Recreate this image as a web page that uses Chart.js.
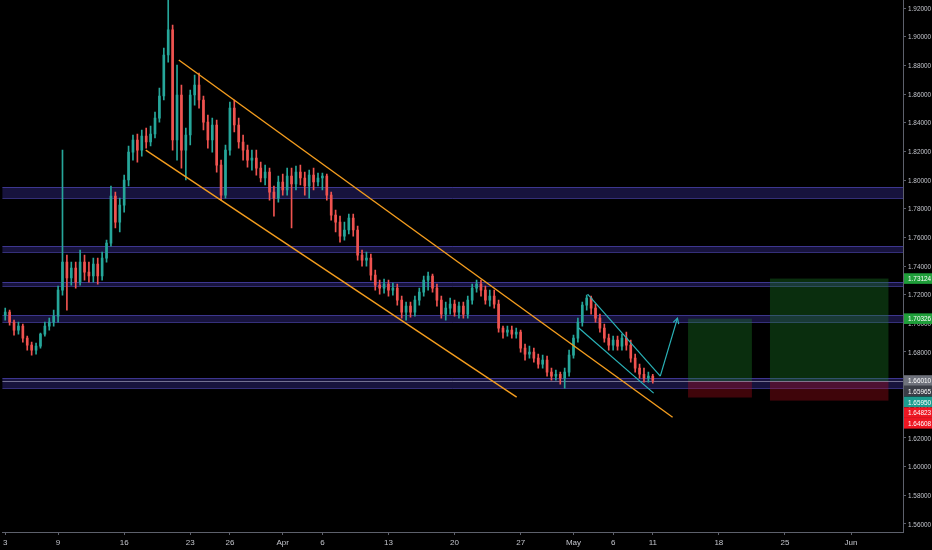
<!DOCTYPE html>
<html>
<head>
<meta charset="utf-8">
<script src="https://cdn.jsdelivr.net/npm/chart.js@4.4.1/dist/chart.umd.min.js"></script>
<style>
  html, body { margin: 0; padding: 0; background: #000; }
  #wrap { width: 932px; height: 550px; }
</style>
</head>
<body>
<div id="wrap"><canvas id="chart" width="932" height="550"></canvas></div>
<script>
// 8h candles, 3 per trading day, starting Tue 3 Mar 2020
const firstDay = "2020-03-03";
const candlesPerDay = 3;

const opens = [1.7057,1.7078,1.7008,1.6953,1.6981,1.6897,1.6848,1.6813,1.6841,1.6925,
  1.6981,1.7008,1.7050,1.7232,1.7427,1.7316,1.7385,1.7288,1.7427,1.7357,
  1.7330,1.7413,1.7330,1.7455,1.7560,1.7888,1.7706,1.7825,1.8000,1.8195,
  1.8279,1.8209,1.8307,1.8265,1.8321,1.8432,1.8586,1.8872,1.9047,1.8279,
  1.8593,1.8209,1.8314,1.8593,1.8663,1.8558,1.8404,1.8279,1.8384,1.8104,
  1.7895,1.8209,1.8502,1.8384,1.8265,1.8209,1.8139,1.8153,1.8083,1.8014,
  1.8055,1.7916,1.7874,1.7986,1.7930,1.8027,1.7972,1.8055,1.8014,1.7958,
  1.8034,1.7986,1.8014,1.8027,1.7895,1.7755,1.7706,1.7609,1.7651,1.7734,
  1.7651,1.7476,1.7441,1.7455,1.7336,1.7267,1.7246,1.7274,1.7232,1.7246,
  1.7162,1.7078,1.7120,1.7078,1.7162,1.7218,1.7302,1.7330,1.7246,1.7162,
  1.7064,1.7106,1.7134,1.7078,1.7120,1.7064,1.7162,1.7246,1.7274,1.7232,
  1.7162,1.7190,1.7134,1.6967,1.6939,1.6953,1.6925,1.6939,1.6827,1.6785,
  1.6799,1.6757,1.6715,1.6743,1.6659,1.6632,1.6645,1.6618,1.6659,1.6778,
  1.6897,1.7008,1.7127,1.7176,1.7106,1.7036,1.6967,1.6897,1.6848,1.6883,
  1.6841,1.6897,1.6848,1.6757,1.6687,1.6645,1.6618,1.6632];

const highs = [1.7106,1.7092,1.7022,1.7008,1.6994,1.6911,1.6869,1.6862,1.6932,1.7008,
  1.7036,1.7092,1.7260,1.8209,1.7476,1.7427,1.7427,1.7511,1.7476,1.7427,
  1.7455,1.7455,1.7497,1.7581,1.7958,1.7916,1.7874,1.8034,1.8237,1.8314,
  1.8321,1.8349,1.8363,1.8377,1.8474,1.8642,1.8921,1.9256,1.9081,1.8802,
  1.8663,1.8363,1.8628,1.8732,1.8746,1.8586,1.8453,1.8432,1.8418,1.8139,
  1.8244,1.8544,1.8558,1.8432,1.8314,1.8244,1.8209,1.8209,1.8125,1.8104,
  1.8083,1.7958,1.8027,1.8041,1.8083,1.8083,1.8097,1.8104,1.8055,1.8069,
  1.8083,1.8048,1.8048,1.8041,1.7916,1.7790,1.7748,1.7706,1.7762,1.7762,
  1.7679,1.7511,1.7497,1.7483,1.7371,1.7302,1.7309,1.7302,1.7281,1.7274,
  1.7190,1.7148,1.7148,1.7190,1.7246,1.7330,1.7357,1.7343,1.7274,1.7190,
  1.7148,1.7176,1.7162,1.7148,1.7148,1.7190,1.7274,1.7302,1.7302,1.7260,
  1.7232,1.7232,1.7162,1.6981,1.6981,1.6981,1.6967,1.6953,1.6855,1.6841,
  1.6827,1.6785,1.6778,1.6771,1.6687,1.6673,1.6659,1.6687,1.6813,1.6918,
  1.7036,1.7148,1.7197,1.7190,1.7134,1.7064,1.6994,1.6925,1.6911,1.6911,
  1.6925,1.6939,1.6883,1.6785,1.6715,1.6687,1.6659,1.6645];

const lows = [1.7022,1.6988,1.6918,1.6925,1.6869,1.6813,1.6778,1.6785,1.6827,1.6911,
  1.6953,1.6981,1.7008,1.7197,1.7092,1.7267,1.7246,1.7267,1.7302,1.7288,
  1.7288,1.7274,1.7302,1.7427,1.7539,1.7665,1.7637,1.7776,1.7958,1.8139,
  1.8125,1.8167,1.8223,1.8237,1.8293,1.8404,1.8558,1.8823,1.8209,1.8139,
  1.8083,1.8000,1.8244,1.8523,1.8502,1.8349,1.8223,1.8195,1.8055,1.7860,
  1.7874,1.8174,1.8335,1.8223,1.8139,1.8090,1.8069,1.8034,1.7986,1.7965,
  1.7860,1.7748,1.7846,1.7895,1.7895,1.7665,1.7930,1.7965,1.7895,1.7874,
  1.7930,1.7958,1.7930,1.7860,1.7720,1.7637,1.7567,1.7581,1.7623,1.7609,
  1.7441,1.7399,1.7399,1.7302,1.7232,1.7204,1.7211,1.7190,1.7197,1.7127,
  1.7036,1.7022,1.7043,1.7050,1.7127,1.7190,1.7232,1.7218,1.7120,1.7036,
  1.7022,1.7064,1.7050,1.7036,1.7036,1.7036,1.7134,1.7218,1.7190,1.7134,
  1.7120,1.7106,1.6939,1.6897,1.6911,1.6897,1.6897,1.6799,1.6743,1.6757,
  1.6729,1.6687,1.6687,1.6632,1.6604,1.6604,1.6576,1.6548,1.6632,1.6757,
  1.6869,1.6981,1.7092,1.7064,1.7008,1.6939,1.6869,1.6813,1.6813,1.6813,
  1.6813,1.6813,1.6729,1.6659,1.6618,1.6590,1.6590,1.6583];

const closes = [1.7078,1.7008,1.6953,1.6981,1.6897,1.6848,1.6813,1.6841,1.6925,1.6981,
  1.7008,1.7050,1.7232,1.7427,1.7316,1.7385,1.7288,1.7427,1.7357,1.7330,
  1.7413,1.7330,1.7455,1.7560,1.7888,1.7706,1.7825,1.8000,1.8195,1.8279,
  1.8209,1.8307,1.8265,1.8321,1.8432,1.8586,1.8872,1.9047,1.8279,1.8593,
  1.8209,1.8314,1.8593,1.8663,1.8558,1.8404,1.8279,1.8384,1.8104,1.7895,
  1.8209,1.8502,1.8384,1.8265,1.8209,1.8139,1.8153,1.8083,1.8014,1.8055,
  1.7916,1.7874,1.7986,1.7930,1.8027,1.7972,1.8055,1.8014,1.7958,1.8034,
  1.7986,1.8014,1.8027,1.7895,1.7755,1.7706,1.7609,1.7651,1.7734,1.7651,
  1.7476,1.7441,1.7455,1.7336,1.7267,1.7246,1.7274,1.7232,1.7246,1.7162,
  1.7078,1.7120,1.7078,1.7162,1.7218,1.7302,1.7330,1.7246,1.7162,1.7064,
  1.7106,1.7134,1.7078,1.7120,1.7064,1.7162,1.7246,1.7274,1.7232,1.7162,
  1.7190,1.7134,1.6967,1.6939,1.6953,1.6925,1.6939,1.6827,1.6785,1.6799,
  1.6757,1.6715,1.6743,1.6659,1.6632,1.6645,1.6618,1.6659,1.6778,1.6897,
  1.7008,1.7127,1.7176,1.7106,1.7036,1.6967,1.6897,1.6848,1.6883,1.6841,
  1.6897,1.6848,1.6757,1.6687,1.6645,1.6618,1.6632,1.6601];

// axis ticks
const priceTicks = [1.56,1.58,1.60,1.62,1.64,1.66,1.68,1.70,1.72,1.74,1.76,1.78,1.80,1.82,1.84,1.86,1.88,1.90,1.92];
const tickDates = ["2020-03-03","2020-03-09","2020-03-16","2020-03-23","2020-03-26","2020-04-01",
  "2020-04-06","2020-04-13","2020-04-20","2020-04-27","2020-05-01","2020-05-06","2020-05-11",
  "2020-05-18","2020-05-25","2020-06-01"];
const tickLabels = ["3","9","16","23","26","Apr","6","13","20","27","May","6","11","18","25","Jun"];

// drawings (x in candle slots, y in price)
const zones = [[1.7951,1.7874],[1.7539,1.7497],[1.7288,1.7260],[1.7057,1.7008],[1.6618,1.6548]];
const channelUpper = [[39.4,1.8837],[151.5,1.6345]];
const channelLower = [[31.9,1.8209],[116.1,1.6485]];
const flagUpper = [[132.2,1.7204],[148.7,1.6632]];
const flagLower = [[130.2,1.6967],[147.2,1.6513]];
const projection = [[148.7,1.6632],[152.6,1.7036]];
// long positions: [fromSlot, toSlot, target, entry, stop]
const positions = [[155.0,169.5,1.70326,1.65965,1.64823],[173.6,200.5,1.73124,1.65950,1.64608]];
const lastPrice = 1.66010;
const axisMarks = [1.73124,1.70326,1.66010,1.65965,1.65950,1.64823,1.64608];
const axisMarkColors = ["#1f9e3a","#1f9e3a","#6f727c","#3b3e47","#1c9d90","#ee1622","#ee1622"];

// trading calendar (weekdays only)
function dayIndexOf(dateStr) {
  const d = new Date(firstDay + "T00:00:00Z");
  const end = new Date(dateStr + "T00:00:00Z");
  let n = 0;
  while (d < end) {
    d.setUTCDate(d.getUTCDate() + 1);
    const wd = d.getUTCDay();
    if (wd !== 0 && wd !== 6) n++;
  }
  return n;
}
const tickSlots = tickDates.map(s => dayIndexOf(s) * candlesPerDay);

const UP = "#26a69a";
const DOWN = "#ef5350";
const candleColors = closes.map((c, i) => (c >= opens[i] ? UP : DOWN));
const FONT = "8px 'Liberation Sans', Arial, sans-serif";

// narrow text like the platform's condensed axis font
function narrowText(ctx, text, x, y, color) {
  ctx.save();
  ctx.translate(x, y);
  ctx.scale(0.8, 1);
  ctx.fillStyle = color;
  ctx.fillText(text, 0, 0);
  ctx.restore();
}

const drawings = {
  id: "drawings",
  beforeDatasetsDraw(chart) {
    const { ctx, chartArea: a, scales: { x, y } } = chart;
    ctx.save();
    ctx.beginPath();
    ctx.rect(a.left, a.top, a.right - a.left, a.bottom - a.top);
    ctx.clip();
    // horizontal zones
    zones.forEach(([hi, lo]) => {
      const y1 = y.getPixelForValue(hi), y2 = y.getPixelForValue(lo);
      ctx.fillStyle = "rgba(70,60,190,0.32)";
      ctx.fillRect(a.left, y1, a.right - a.left, y2 - y1);
      ctx.strokeStyle = "rgba(95,85,215,0.55)";
      ctx.lineWidth = 1;
      ctx.beginPath();
      ctx.moveTo(a.left, Math.round(y1) + 0.5); ctx.lineTo(a.right, Math.round(y1) + 0.5);
      ctx.moveTo(a.left, Math.round(y2) + 0.5); ctx.lineTo(a.right, Math.round(y2) + 0.5);
      ctx.stroke();
    });
    // position boxes
    positions.forEach(([x0, x1, tp, entry, sl]) => {
      const px0 = x.getPixelForValue(x0), px1 = x.getPixelForValue(x1);
      const yt = y.getPixelForValue(tp), ye = y.getPixelForValue(entry), ys = y.getPixelForValue(sl);
      ctx.fillStyle = "rgba(30,135,40,0.34)";
      ctx.fillRect(px0, yt, px1 - px0, ye - yt);
      ctx.fillStyle = "rgba(185,15,30,0.34)";
      ctx.fillRect(px0, ye, px1 - px0, ys - ye);
    });
    // last price line
    const yl = Math.round(y.getPixelForValue(lastPrice)) + 0.5;
    ctx.strokeStyle = "rgba(190,190,215,0.55)";
    ctx.beginPath();
    ctx.moveTo(a.left, yl); ctx.lineTo(a.right, yl);
    ctx.stroke();
    ctx.restore();
  },
  afterDatasetsDraw(chart) {
    const { ctx, chartArea: a, scales: { x, y } } = chart;
    const seg = (pts, color, w) => {
      ctx.strokeStyle = color;
      ctx.lineWidth = w;
      ctx.beginPath();
      ctx.moveTo(x.getPixelForValue(pts[0][0]), y.getPixelForValue(pts[0][1]));
      ctx.lineTo(x.getPixelForValue(pts[1][0]), y.getPixelForValue(pts[1][1]));
      ctx.stroke();
    };
    ctx.save();
    ctx.beginPath();
    ctx.rect(a.left, a.top, a.right - a.left, a.bottom - a.top);
    ctx.clip();
    seg(channelUpper, "#f49d1e", 1.4);
    seg(channelLower, "#f49d1e", 1.4);
    seg(flagUpper, "#2ab3b8", 1.2);
    seg(flagLower, "#2ab3b8", 1.2);
    seg(projection, "#2ab3b8", 1.2);
    // arrow head
    const ax0 = x.getPixelForValue(projection[0][0]), ay0 = y.getPixelForValue(projection[0][1]);
    const ax1 = x.getPixelForValue(projection[1][0]), ay1 = y.getPixelForValue(projection[1][1]);
    const ang = Math.atan2(ay1 - ay0, ax1 - ax0);
    ctx.beginPath();
    ctx.moveTo(ax1 - 6 * Math.cos(ang - 0.5), ay1 - 6 * Math.sin(ang - 0.5));
    ctx.lineTo(ax1, ay1);
    ctx.lineTo(ax1 - 6 * Math.cos(ang + 0.5), ay1 - 6 * Math.sin(ang + 0.5));
    ctx.stroke();
    ctx.restore();
  },
  afterDraw(chart) {
    const { ctx, chartArea: a, scales: { y } } = chart;
    ctx.save();
    ctx.font = FONT;
    ctx.textBaseline = "middle";
    ctx.textAlign = "left";
    // price scale labels
    priceTicks.forEach(v => {
      narrowText(ctx, v.toFixed(5), a.right + 5, y.getPixelForValue(v) + 0.5, "#c3c5cc");
    });
    // coloured price marks, stacked so they do not overlap
    let prev = -100;
    axisMarks.forEach((v, i) => {
      let py = y.getPixelForValue(v);
      if (py < prev + 10.7) py = prev + 10.7;
      prev = py;
      ctx.fillStyle = axisMarkColors[i];
      ctx.fillRect(a.right + 1, py - 5.3, 932 - a.right, 10.6);
      narrowText(ctx, v.toFixed(5), a.right + 5, py + 0.5, "#ffffff");
    });
    ctx.restore();
  }
};

new Chart(document.getElementById("chart").getContext("2d"), {
  type: "bar",
  data: {
    datasets: [
      {
        label: "wick",
        data: lows.map((l, i) => ({ x: i, y: [l, highs[i]] })),
        backgroundColor: candleColors,
        barThickness: 1,
        grouped: false,
        order: 2,
      },
      {
        label: "body",
        data: closes.map((c, i) => ({ x: i, y: [opens[i], c] })),
        backgroundColor: candleColors,
        barThickness: 2,
        minBarLength: 1,
        grouped: false,
        order: 1,
      },
    ],
  },
  options: {
    responsive: false,
    animation: false,
    layout: { padding: 0 },
    plugins: { legend: { display: false }, tooltip: { enabled: false } },
    scales: {
      x: {
        type: "linear",
        min: -0.68,
        max: 203.8,
        offset: false,
        afterBuildTicks: (s) => { s.ticks = tickSlots.map(v => ({ value: v })); },
        afterFit: (s) => { s.height = 18; },
        grid: { drawOnChartArea: false, drawTicks: true, tickLength: 3, offset: false, color: "#5d606b" },
        border: { display: true, color: "#5d606b" },
        ticks: {
          color: "#c3c5cc",
          padding: 3,
          maxRotation: 0,
          autoSkip: false,
          font: { size: 8, family: "'Liberation Sans', Arial, sans-serif" },
          callback: (v, i) => tickLabels[i],
        },
      },
      y: {
        position: "right",
        min: 1.5544,
        max: 1.9256,
        afterBuildTicks: (s) => { s.ticks = priceTicks.map(v => ({ value: v })); },
        afterFit: (s) => { s.width = 29; },
        grid: { drawOnChartArea: false, drawTicks: true, tickLength: 3, color: "#5d606b" },
        border: { display: true, color: "#5d606b" },
        ticks: { display: false },
      },
    },
  },
  plugins: [drawings],
});
</script>
</body>
</html>
